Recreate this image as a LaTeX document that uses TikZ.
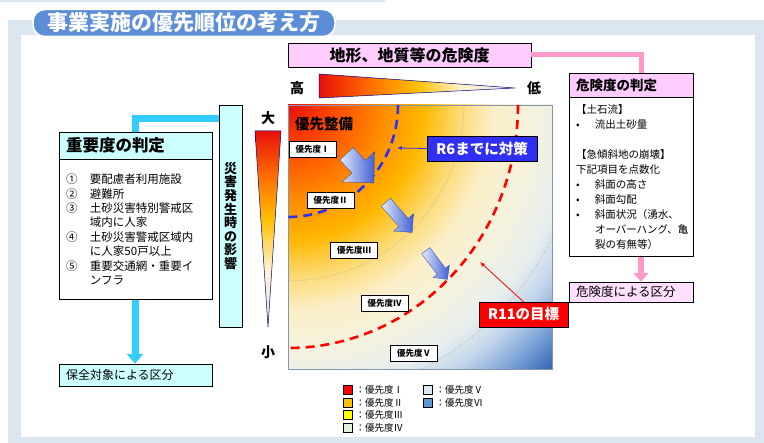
\documentclass[tikz,border=0pt]{standalone}
\usepackage{fontspec}
\setmainfont{Noto Sans CJK JP}
\usepackage{tikz}
\usetikzlibrary{positioning,arrows.meta,calc,shapes.arrows}
\definecolor{panelgrey}{HTML}{DCE6F1}
\definecolor{titleblue}{HTML}{5B8ED6}
\definecolor{hazpink}{HTML}{FFCCFF}
\definecolor{hazpinklight}{HTML}{FFE0FF}
\definecolor{linkpink}{HTML}{FF99CC}
\definecolor{impcyan}{HTML}{CCFFFF}
\definecolor{linkcyan}{HTML}{33CCFF}
\definecolor{r6blue}{HTML}{2F2FF5}
\definecolor{r11red}{HTML}{FF0000}
\definecolor{areaedge}{HTML}{8497B0}
\definecolor{arrowpale}{HTML}{E4EAF8}
\definecolor{arrowblue}{HTML}{3F5FD8}
\definecolor{legI}{HTML}{FF0000}
\definecolor{legII}{HTML}{FFC000}
\definecolor{legIII}{HTML}{FFFF00}
\definecolor{legIV}{HTML}{E2EFDA}
\definecolor{legV}{HTML}{DDE8F5}
\definecolor{legVI}{HTML}{5B9BD5}
\definecolor{sh0}{HTML}{E8100A}
\definecolor{sh1}{HTML}{FF4A00}
\definecolor{sh2}{HTML}{FF8C00}
\definecolor{sh3}{HTML}{FFB800}
\definecolor{sh4}{HTML}{FCD970}
\definecolor{sh5}{HTML}{FBEFC8}
\definecolor{sh6}{HTML}{F4F2E0}
\definecolor{sh7}{HTML}{E6EEEE}
\definecolor{sh8}{HTML}{C5D7EC}
\definecolor{sh9}{HTML}{7FA5D8}
\definecolor{sh10}{HTML}{3A6BB5}
\definecolor{barpale}{HTML}{E4ECF6}
\definecolor{barcream}{HTML}{FFF2C8}
\definecolor{barorange}{HTML}{FF6A00}
\pgfdeclareradialshading{prioshade}{\pgfpoint{0bp}{0bp}}{color(0bp)=(sh0); color(3bp)=(sh1); color(6.25bp)=(sh2); color(8.9bp)=(sh3); color(11.2bp)=(sh4); color(13.5bp)=(sh5); color(16.4bp)=(sh6); color(18.75bp)=(sh7); color(20.4bp)=(sh8); color(22.4bp)=(sh9); color(24.3bp)=(sh10); color(50bp)=(sh10)}
\pgfdeclarehorizontalshading{hazardbar}{100bp}{color(0bp)=(sh0); color(25bp)=(sh0); color(37.5bp)=(barorange); color(50bp)=(legII); color(61bp)=(barcream); color(75bp)=(barpale); color(100bp)=(barpale)}
\pgfdeclareverticalshading{impactbar}{100bp}{color(0bp)=(barpale); color(25bp)=(barpale); color(40bp)=(barcream); color(52.5bp)=(legII); color(64bp)=(barorange); color(75bp)=(sh0); color(100bp)=(sh0)}
\tikzset{
  titlepill/.style={draw=white, line width=1.5pt, rounded corners=12pt, fill=titleblue, text=white, font=\fontsize{21}{21}\selectfont\bfseries, minimum width=302pt, minimum height=27pt},
  hazbox/.style={draw, fill=hazpink, font=\fontsize{16}{16}\selectfont\bfseries, minimum width=243pt, minimum height=24pt},
  headbox/.style={draw, align=left, inner xsep=7pt},
  bodybox/.style={draw, fill=white, align=left, inner xsep=7pt},
  resultbox/.style={draw, align=left, inner xsep=7pt, minimum height=20pt},
  impactbox/.style={draw, fill=impcyan, align=center, font=\fontsize{13}{13.6}\selectfont\bfseries, minimum width=23pt, minimum height=222pt},
  axislabel/.style={font=\fontsize{14}{14}\selectfont\bfseries},
  priolabel/.style={draw, fill=white, font=\fontsize{8.5}{8.5}\selectfont\bfseries, minimum width=47pt, minimum height=16pt},
  pushbox/.style={draw, text=white, font=\fontsize{14.5}{14.5}\selectfont\bfseries, minimum height=25pt},
  stepdown/.style={single arrow, draw=arrowblue!70!black, line width=0.3pt, left color=arrowpale, right color=arrowblue, single arrow head indent=0pt, inner xsep=0pt},
  legsq/.style={draw, line width=0.6pt, minimum width=9pt, minimum height=9pt},
  legtext/.style={font=\fontsize{9.5}{9.5}\selectfont},
  pinkpipe/.style={draw=linkpink, line width=5pt},
  pinkarrow/.style={draw=linkpink, line width=6pt, -{Triangle[width=15pt,length=9pt]}},
  cyanpipe/.style={draw=linkcyan, line width=7pt},
  cyanarrow/.style={draw=linkcyan, line width=7pt, -{Triangle[width=16pt,length=10pt]}},
  r6line/.style={draw=r6blue, line width=2.6pt, dash pattern=on 9pt off 6pt},
  r11line/.style={draw=r11red, line width=2.6pt, dash pattern=on 9pt off 6pt},
  rankline/.style={draw=gray!70, line width=0.5pt, densely dotted},
  pointer/.style={->, >={Latex[length=5pt,width=4pt]}, line width=0.8pt}
}
\begin{document}
\begin{tikzpicture}[x=1pt, y=-1pt, every node/.style={inner sep=0pt}]
  \useasboundingbox (0,0) rectangle (764,443);
  \draw[panelgrey, line width=1.2pt] (0,1) -- (385,1);
  \fill[panelgrey] (8,20) rectangle (764,443);
  \fill[white] (21,35) rectangle (755,437);
  \node[titlepill] (title) at (184,23) {事業実施の優先順位の考え方};

  \node[hazbox] (hazard) at (409.5,55) {地形、地質等の危険度};
  \node[axislabel] (high) at (297,88) {高};
  \node[axislabel] (low) at (534,88) {低};
  \shadedraw[shading=hazardbar, draw=blue!50!black, line width=0.5pt] (319,74) -- (515,88) -- (319,98) -- cycle;

  \node[headbox, fill=hazpink, text width=110pt, minimum height=24pt, font=\fontsize{13.5}{13.5}\selectfont\bfseries] (dangerhead) at (631,85) {危険度の判定};
  \node[bodybox, text width=110pt, minimum height=159pt, font=\fontsize{10.5}{15}\selectfont, below=0pt of dangerhead] (dangerbody) {%
    【土石流】\\
    \makebox[19pt][l]{•}流出土砂量\\[15pt]
    【急傾斜地の崩壊】\\
    下記項目を点数化\\
    \makebox[19pt][l]{•}斜面の高さ\\
    \makebox[19pt][l]{•}斜面勾配\\
    \makebox[19pt][l]{•}斜面状況（湧水、\\
    \hspace*{19pt}オーバーハング、亀\\
    \hspace*{19pt}裂の有無等）};
  \node[resultbox, fill=hazpinklight, text width=110pt, font=\fontsize{12.5}{12.5}\selectfont] (dangerres) at (631,292) {危険度による区分};
  \coordinate (pinkdrop) at (641,73);
  \draw[pinkpipe] (hazard.east) -| (pinkdrop);
  \draw[pinkarrow] (dangerbody.south -| pinkdrop) -- (dangerres.north -| pinkdrop);

  \node[impactbox] (impact) at (230.5,216) {災\\害\\発\\生\\時\\の\\影\\響};
  \node[headbox, fill=impcyan, text width=139pt, minimum height=27pt, font=\fontsize{16.5}{16.5}\selectfont\bfseries] (imphead) at (135.5,145.5) {重要度の判定};
  \node[bodybox, text width=139pt, minimum height=140pt, font=\fontsize{11.5}{14.4}\selectfont, below=0pt of imphead] (impbody) {%
    \makebox[24pt][l]{①}要配慮者利用施設\\
    \makebox[24pt][l]{②}避難所\\
    \makebox[24pt][l]{③}土砂災害特別警戒区\\
    \hspace*{24pt}域内に人家\\
    \makebox[24pt][l]{④}土砂災害警戒区域内\\
    \hspace*{24pt}に人家50戸以上\\
    \makebox[24pt][l]{⑤}重要交通網・重要イ\\
    \hspace*{24pt}ンフラ\par\vspace*{11pt}};
  \node[resultbox, fill=impcyan, text width=139pt, minimum height=22pt, font=\fontsize{12}{12}\selectfont] (saferes) at (135.5,375) {保全対象による区分};
  \coordinate (cyanturn) at (135,119);
  \draw[cyanpipe] (impact.west |- cyanturn) -| (imphead.north -| cyanturn);
  \draw[cyanarrow] (impbody.south -| cyanturn) -- (saferes.north -| cyanturn);

  \node[axislabel] (large) at (268,118) {大};
  \node[axislabel] (small) at (268,352) {小};
  \shadedraw[shading=impactbar, draw=blue!50!black, line width=0.5pt] (255,131) -- (281,131) -- (268,327) -- cycle;

  \coordinate (sqnw) at (288,105);
  \coordinate (sqse) at (552,369);
  \begin{scope}
    \clip (sqnw) rectangle (sqse);
    \shade[shading=prioshade] ($(sqnw)+(-380,-380)$) rectangle ($(sqnw)+(380,380)$);
    \draw[rankline] (sqnw) circle[radius=176];
    \draw[rankline] (sqnw) circle[radius=296];
  \end{scope}
  \draw[areaedge, line width=0.8pt] (sqnw) rectangle (sqse);
  \draw[r6line] (398,105) arc[start angle=0, end angle=90, x radius=110, y radius=112];
  \draw[r11line] (518,105) arc[start angle=0, end angle=90, x radius=230, y radius=243];

  \node[font=\fontsize{14.5}{14.5}\selectfont\bfseries, anchor=west] (urgent) at (295,124) {優先整備};
  \node[priolabel] (p1) at (312.5,149) {優先度Ⅰ};
  \node[priolabel] (p2) at (330.5,200.5) {優先度Ⅱ};
  \node[priolabel] (p3) at (354,250.5) {優先度Ⅲ};
  \node[priolabel] (p4) at (384.5,303.5) {優先度Ⅳ};
  \node[priolabel] (p5) at (414,353.5) {優先度Ⅴ};

  \node[stepdown, minimum height=40pt, inner ysep=9pt, minimum width=44pt, single arrow head extend=13pt, rotate=-47] (stepA) at (357,165) {};
  \node[stepdown, minimum height=40pt, inner ysep=6pt, minimum width=26pt, single arrow head extend=7pt, rotate=-49] (stepB) at (397,215) {};
  \node[stepdown, minimum height=36pt, inner ysep=5pt, minimum width=20pt, single arrow head extend=5pt, rotate=-53] (stepC) at (435,263) {};

  \node[pushbox, fill=r6blue, minimum width=110pt] (r6box) at (482,148.5) {R6までに対策};
  \coordinate (r6tip) at (397,148);
  \draw[pointer, r6blue] (r6box.west) -- (r6tip);
  \node[pushbox, fill=r11red, minimum width=89pt] (r11box) at (523.5,314.5) {R11の目標};
  \coordinate (r11tip) at (480,262);
  \draw[pointer, r11red] (r11box.north) -- (r11tip);

  \foreach \col/\nm [count=\i] in {legI/Ⅰ, legII/Ⅱ, legIII/Ⅲ, legIV/Ⅳ} {
    \node[legsq, fill=\col] (legsqA\i) at (347.5,377.5+12.5*\i) {};
    \node[legtext, right=3pt of legsqA\i] (legtxtA\i) {：優先度\nm};
  }
  \foreach \col/\nm [count=\i] in {legV/Ⅴ, legVI/Ⅵ} {
    \node[legsq, fill=\col] (legsqB\i) at (427.5,377.5+12.5*\i) {};
    \node[legtext, right=3pt of legsqB\i] (legtxtB\i) {：優先度\nm};
  }
\end{tikzpicture}
\end{document}
